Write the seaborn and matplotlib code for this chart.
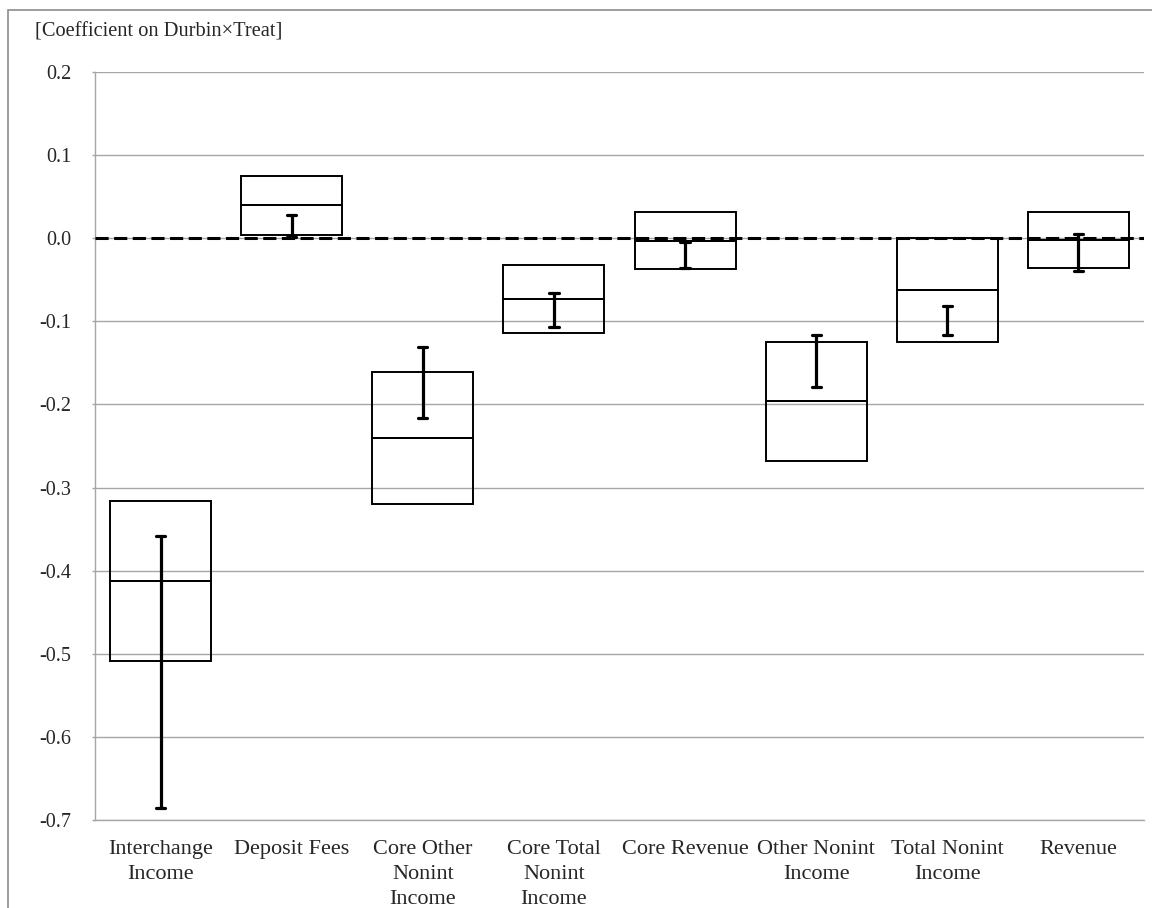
import numpy as np
import pandas as pd
import matplotlib
matplotlib.use("Agg")
import matplotlib.pyplot as plt
from matplotlib.patches import Rectangle
import seaborn as sns

sns.set_style("white")
plt.rcParams["font.family"] = ["Liberation Serif", "DejaVu Serif"]
plt.rcParams["axes.unicode_minus"] = False

categories = ["Interchange\nIncome", "Deposit Fees", "Core Other\nNonint\nIncome",
              "Core Total\nNonint\nIncome", "Core Revenue", "Other Nonint\nIncome",
              "Total Nonint\nIncome", "Revenue"]

# box: low edge, middle line, high edge
box_low = [-0.509, 0.004, -0.320, -0.114, -0.037, -0.268, -0.125, -0.036]
box_mid = [-0.413, 0.040, -0.240, -0.073, -0.003, -0.196, -0.062, -0.002]
box_high = [-0.316, 0.075, -0.161, -0.032, 0.031, -0.125, 0.000, 0.032]

# error bar ends
err_low = [-0.686, 0.002, -0.216, -0.107, -0.036, -0.179, -0.117, -0.039]
err_high = [-0.358, 0.028, -0.131, -0.066, -0.004, -0.116, -0.081, 0.005]

y_ticks = [0.2, 0.1, 0.0, -0.1, -0.2, -0.3, -0.4, -0.5, -0.6, -0.7]

df = pd.DataFrame({"cat": categories, "low": box_low, "mid": box_mid, "high": box_high})
df["lower_h"] = df["mid"] - df["low"]
df["upper_h"] = df["high"] - df["mid"]

df_err = pd.DataFrame({"cat": categories * 2, "val": err_low + err_high})

fig = plt.figure(figsize=(11.52, 9.08), dpi=100)
ax = fig.add_axes([95 / 1152, 1 - 820 / 908, (1144 - 95) / 1152, (820 - 72) / 908])

ax.set_axisbelow(True)
ax.yaxis.grid(True, color="#a6a6a6", linewidth=1.0)

box_w = 0.77
sns.barplot(ax=ax, data=df, x="cat", y="lower_h", order=categories, bottom=df["low"].values,
            fill=False, color="black", linewidth=1.4, width=box_w, errorbar=None, zorder=2)
sns.barplot(ax=ax, data=df, x="cat", y="upper_h", order=categories, bottom=df["mid"].values,
            fill=False, color="black", linewidth=1.4, width=box_w, errorbar=None, zorder=2)

ax.axhline(0, color="black", linewidth=2.2, dashes=(4.3, 1.8), zorder=3)

sns.pointplot(ax=ax, data=df_err, x="cat", y="val", order=categories,
              errorbar=lambda v: (v.min(), v.max()), estimator="mean",
              linestyle="none", marker="", color="black", capsize=0.07,
              err_kws={"linewidth": 2.3}, zorder=4)

ax.set_ylim(-0.7, 0.2)
ax.set_xlim(-0.5, len(categories) - 0.5)
ax.set_yticks(y_ticks)
ax.set_yticklabels([f"{t:.1f}" for t in y_ticks])
ax.set_xlabel("")
ax.set_ylabel("")

ax.set_xticks(np.arange(len(categories)))
ax.set_xticklabels(categories, fontsize=16, linespacing=1.42, va="top")
ax.set_xticks(np.arange(len(categories) + 1) - 0.5, minor=True)
ax.tick_params(axis="x", which="major", length=0, pad=14.5)
ax.tick_params(axis="x", which="minor", length=5, color="#a6a6a6", width=1.0, direction="out")
ax.tick_params(axis="y", which="major", length=2, color="#a6a6a6", width=1.0, pad=15, labelsize=14.5,
               left=True, direction="out")

for s in ["top", "right"]:
    ax.spines[s].set_visible(False)
for s in ["left", "bottom"]:
    ax.spines[s].set_color("#a6a6a6")
    ax.spines[s].set_linewidth(1.0)

fig.text(35 / 1152, 1 - 32 / 908, "[Coefficient on Durbin\u00d7Treat]", fontsize=14.7,
         ha="left", va="center")

fig.patches.append(Rectangle((8 / 1152, -0.5), 2.0, 0.5 + 1 - 10 / 908, transform=fig.transFigure,
                             fill=False, edgecolor="#8c8c8c", linewidth=1.2))

fig.savefig("out.png", dpi=100, facecolor="white")
